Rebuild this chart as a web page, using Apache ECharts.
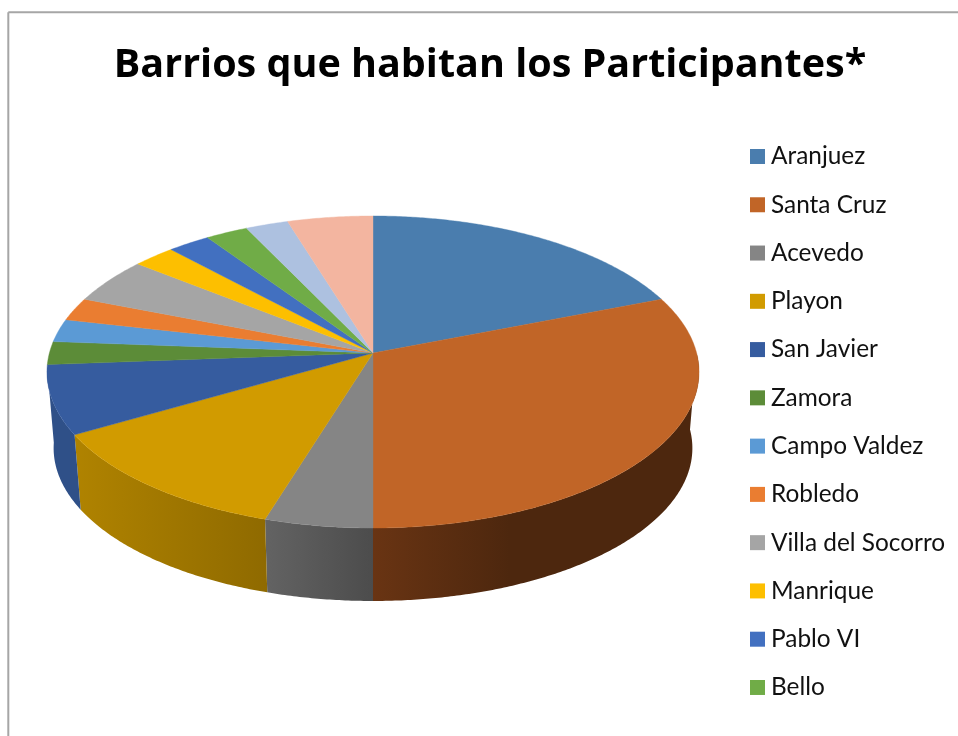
<!DOCTYPE html>
<html>
<head>
<meta charset="utf-8">
<style>
  html, body { margin: 0; padding: 0; background: #fff; }
  #main { width: 958px; height: 736px; }
</style>
<script src="https://cdn.jsdelivr.net/npm/echarts@6/dist/echarts.min.js"></script>
</head>
<body>
<div id="main"></div>
<script>
const titleText = 'Barrios que habitan los Participantes*';

// the last two slices have no visible legend entry in the reference
const categories = ['Aranjuez', 'Santa Cruz', 'Acevedo', 'Playon', 'San Javier', 'Zamora', 'Campo Valdez',
  'Robledo', 'Villa del Socorro', 'Manrique', 'Pablo VI', 'Bello', 'Otro A', 'Otro B'];
const values = [8, 13, 2, 5, 3, 1, 1, 1, 2, 1, 1, 1, 1, 2];
const legendNames = categories.slice(0, 12);

const colors = ['#4a7dae', '#c16527', '#858585', '#d19b00', '#365c9f', '#5c8c38', '#5b9ad5',
  '#ea7d31', '#a5a5a5', '#fdbf00', '#4270c0', '#70ac47', '#adc1e0', '#f3b5a0'];
const wallStart = ['#3a6289', '#693413', '#636363', '#b08300', '#2f5088', '#476c2b', '#4a7dad',
  '#b9631f', '#838383', '#c99800', '#345999', '#598938', '#8a9ab3', '#c19080'];
const wallEnd = ['#3a6289', '#4d270e', '#4c4c4c', '#8f6a00', '#2f5088', '#476c2b', '#4a7dad',
  '#b9631f', '#838383', '#c99800', '#345999', '#598938', '#8a9ab3', '#c19080'];

// perspective of the tilted disc: rim = projected unit circle
const topRim = { cx: 373, cy: 353, a: 323.6, b: 153.7 };
const bottomRim = { cx: 373, cy: 429.5, a: 317, b: 150.6 };
const tilt = -0.1218;

function rimPoint(rim, deg) {
  const t = deg * Math.PI / 180;
  const X = Math.sin(t);
  const Y = -Math.cos(t);
  const w = 1 + tilt * Y;
  return [rim.cx + rim.a * X / w, rim.cy + rim.b * Y / w];
}

function arcPoints(rim, from, to) {
  const pts = [];
  const steps = Math.max(2, Math.ceil((to - from) * 2));
  for (let i = 0; i <= steps; i++) {
    pts.push(rimPoint(rim, from + (to - from) * i / steps));
  }
  return pts;
}

const total = values.reduce((s, v) => s + v, 0);
let acc = 0;
const slices = values.map(v => {
  const start = acc / total * 360;
  acc += v;
  return [start, acc / total * 360];
});

const series = categories.map((name, idx) => ({
  name: name,
  type: 'custom',
  coordinateSystem: 'none',
  silent: true,
  animation: false,
  itemStyle: { color: colors[idx] },
  data: [slices[idx]],
  renderItem: (params, api) => {
    const from = api.value(0);
    const to = api.value(1);
    const children = [];
    // only the front of the wall can be seen, up to the left and right extremes of the rim
    const wFrom = Math.max(from, 90);
    const wTo = Math.min(to, 265);
    if (wTo > wFrom) {
      const wall = arcPoints(topRim, wFrom, wTo).concat(arcPoints(bottomRim, wFrom, wTo).reverse());
      children.push({
        type: 'polygon',
        z2: 1,
        shape: { points: wall },
        style: {
          fill: {
            type: 'linear', x: 0, y: 0, x2: 1, y2: 0,
            colorStops: idx === 1
              ? [{ offset: 0, color: wallStart[idx] }, { offset: 0.42, color: wallEnd[idx] }, { offset: 1, color: wallEnd[idx] }]
              : [{ offset: 0, color: wallStart[idx] }, { offset: 1, color: wallEnd[idx] }]
          },
          stroke: null
        }
      });
    }
    const top = [[topRim.cx, topRim.cy]].concat(arcPoints(topRim, from, to));
    children.push({
      type: 'polygon',
      z2: 5,
      shape: { points: top },
      style: { fill: colors[idx], stroke: colors[idx], lineWidth: 0.4 }
    });
    return { type: 'group', children: children };
  }
}));

const chart = echarts.init(document.getElementById('main'), null, { renderer: 'canvas' });
chart.setOption({
  backgroundColor: '#fff',
  animation: false,
  title: {
    text: titleText,
    left: 485,
    top: 41,
    textAlign: 'center',
    textStyle: { fontFamily: 'Open Sans', fontWeight: 700, fontSize: 39.5, color: '#000' }
  },
  legend: {
    orient: 'vertical',
    left: 750,
    top: 143,
    padding: 0,
    itemWidth: 15,
    itemHeight: 15,
    itemGap: 21.27,
    icon: 'rect',
    selectedMode: false,
    data: legendNames,
    textStyle: { fontFamily: 'Lato', fontSize: 24.4, color: '#111', padding: [0, 0, 0, 1], height: 27, lineHeight: 27 }
  },
  graphic: [
    { type: 'line', silent: true, shape: { x1: 8.3, y1: 12.3, x2: 8.3, y2: 736 }, style: { stroke: '#a6a6a6', lineWidth: 2 } },
    { type: 'line', silent: true, shape: { x1: 8.3, y1: 12.3, x2: 958, y2: 12.3 }, style: { stroke: '#a6a6a6', lineWidth: 2 } }
  ],
  series: series
});
</script>
</body>
</html>
